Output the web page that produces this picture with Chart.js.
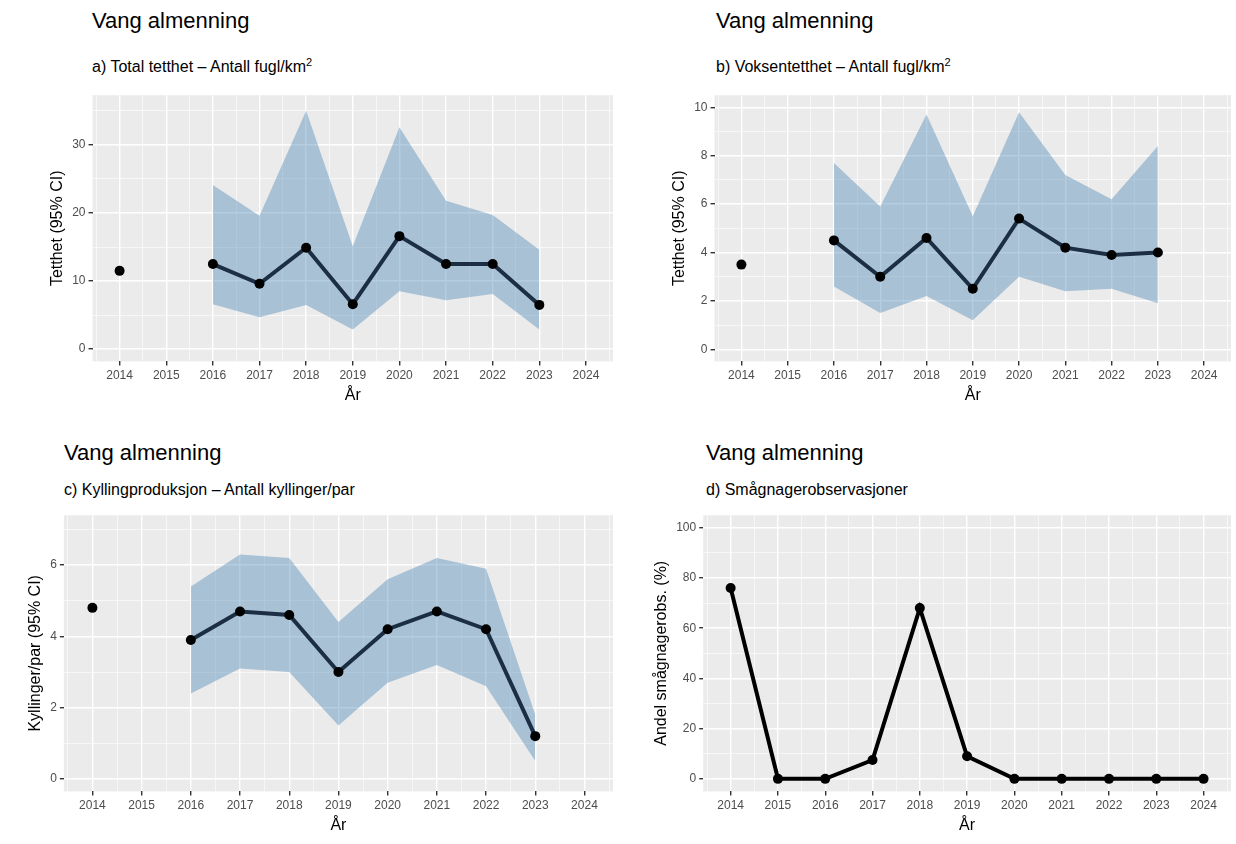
<!DOCTYPE html>
<html><head><meta charset="utf-8">
<script src="https://cdn.jsdelivr.net/npm/chart.js@4"></script>
<style>
body{margin:0;background:#fff;font-family:"Liberation Sans",Arial,sans-serif;}
.box{position:absolute;}
.t1{position:absolute;font-size:22px;color:#000;}
.t2{position:absolute;font-size:16px;color:#000;}
</style></head><body>
<div class="t1" style="left:92px;top:8px">Vang almenning</div>
<div class="t2" style="left:92px;top:56px">a) Total tetthet – Antall fugl/km<sup style="font-size:11px">2</sup></div>
<div class="t1" style="left:716px;top:8px">Vang almenning</div>
<div class="t2" style="left:716px;top:56px">b) Voksentetthet – Antall fugl/km<sup style="font-size:11px">2</sup></div>
<div class="t1" style="left:64px;top:440px">Vang almenning</div>
<div class="t2" style="left:64px;top:481px">c) Kyllingproduksjon – Antall kyllinger/par</div>
<div class="t1" style="left:706px;top:440px">Vang almenning</div>
<div class="t2" style="left:706px;top:481px">d) Smågnagerobservasjoner</div>
<div class="box" style="left:0;top:85px;width:618px;height:320px"><canvas id="a"></canvas></div>
<div class="box" style="left:622px;top:85px;width:614px;height:320px"><canvas id="b"></canvas></div>
<div class="box" style="left:0;top:505px;width:618px;height:330px"><canvas id="c"></canvas></div>
<div class="box" style="left:622px;top:505px;width:614px;height:330px"><canvas id="d"></canvas></div>
<script>
const years = [2014,2015,2016,2017,2018,2019,2020,2021,2022,2023,2024];

const totEst = [11.5,null,12.5,9.6,14.9,6.6,16.6,12.5,12.5,6.5,null];
const totUp  = [null,null,24.1,19.6,35.0,15.1,32.6,21.8,19.7,14.6,null];
const totLo  = [null,null,6.6,4.7,6.5,2.9,8.5,7.2,8.1,2.9,null];

const adEst = [3.5,null,4.5,3.0,4.6,2.5,5.4,4.2,3.9,4.0,null];
const adUp  = [null,null,7.7,5.9,9.7,5.5,9.8,7.2,6.2,8.4,null];
const adLo  = [null,null,2.6,1.5,2.2,1.2,3.0,2.4,2.5,1.9,null];

const kyEst = [4.8,null,3.9,4.7,4.6,3.0,4.2,4.7,4.2,1.2,null];
const kyUp  = [null,null,5.4,6.3,6.2,4.4,5.6,6.2,5.9,1.8,null];
const kyLo  = [null,null,2.4,3.1,3.0,1.5,2.7,3.2,2.6,0.5,null];

const rodent = [76,0,0,7.5,68,9,0,0,0,0,0];

const bg = {id:'bg',beforeDraw(ch){const a=ch.chartArea,c=ch.ctx;c.save();c.fillStyle='#EBEBEB';c.fillRect(a.left,a.top,a.right-a.left,a.bottom-a.top);c.restore();}};
const pts = arr => years.map((y,i)=>({x:y,y:arr[i]}));

function gridW(major){return ctx=>{const v=ctx.tick?ctx.tick.value:0;return Math.abs(v/major-Math.round(v/major))<1e-6?1.4:0.6;};}

function make(id,est,up,lo,yTitle,yMax,major,minorStep,lineCol,padL){
  const ds=[];
  if(up){
    ds.push({data:pts(up),order:2,borderWidth:0,pointRadius:0,backgroundColor:'rgba(70,130,180,0.4)',fill:'+1'});
    ds.push({data:pts(lo),order:3,borderWidth:0,pointRadius:0,fill:false});
  }
  ds.push({data:pts(est),order:0,borderColor:lineCol,borderWidth:4,pointRadius:5,pointBorderWidth:0,pointBackgroundColor:'#000',pointBorderColor:'#000',spanGaps:false,fill:false});
  new Chart(document.getElementById(id),{type:'line',data:{datasets:ds},plugins:[bg],
    options:{animation:false,responsive:true,maintainAspectRatio:false,
      layout:{padding:{left:padL,right:4}},
      plugins:{legend:{display:false},tooltip:{enabled:false}},
      scales:{
        x:{type:'linear',min:2013.42,max:2024.58,
          afterBuildTicks(ax){const t=[];for(let y=2013.5;y<=2024.5;y+=0.5)t.push({value:y});ax.ticks=t;},
          ticks:{autoSkip:false,maxRotation:0,color:'#4D4D4D',font:{size:12},callback:v=>Number.isInteger(v)?String(v):''},
          grid:{color:'#fff',lineWidth:gridW(1),drawTicks:true,tickColor:ctx=>Number.isInteger(ctx.tick.value)?'#333':'rgba(0,0,0,0)',tickLength:4},
          border:{display:false},
          title:{display:true,text:'År',color:'#000',font:{size:16},padding:0}},
        y:{min:yMax[0],max:yMax[1],
          afterBuildTicks(ax){const t=[];for(let v=0;v<=yMax[1]+1e-9;v+=minorStep)t.push({value:+v.toFixed(4)});ax.ticks=t;},
          ticks:{color:'#4D4D4D',font:{size:12},callback:v=>Math.abs(v/major-Math.round(v/major))<1e-6?String(v):''},
          grid:{color:'#fff',lineWidth:gridW(major),tickColor:ctx=>Math.abs(ctx.tick.value/major-Math.round(ctx.tick.value/major))<1e-6?'#333':'rgba(0,0,0,0)',tickLength:4},
          border:{display:false},
          title:{display:true,text:yTitle,color:'#000',font:{size:16},padding:2}}
      }}});
}
Chart.defaults.font.family='"Liberation Sans", Arial, sans-serif';
make('a',totEst,totUp,totLo,'Tetthet (95% CI)',[-1.8,37.3],10,5,'#1C2E44',46);
make('b',adEst,adUp,adLo,'Tetthet (95% CI)',[-0.5,10.5],2,1,'#1C2E44',46);
make('c',kyEst,kyUp,kyLo,'Kyllinger/par (95% CI)',[-0.35,7.4],2,1,'#1C2E44',24);
make('d',rodent,null,null,'Andel smågnagerobs. (%)',[-5,105],20,10,'#000',28);
</script>
</body></html>
